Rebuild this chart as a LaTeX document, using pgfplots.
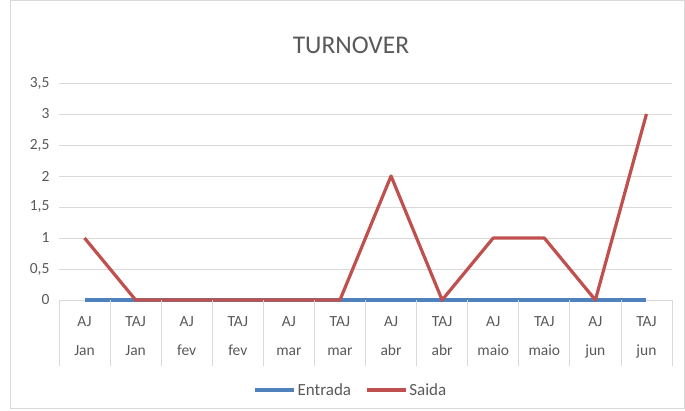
\documentclass[border=0pt]{standalone}
\usepackage{pgfplots}
\pgfplotsset{compat=1.18}
\usepackage{fontspec}
\setmainfont{Carlito}
\definecolor{txt}{HTML}{595959}
\definecolor{grd}{HTML}{D9D9D9}
\definecolor{blu}{HTML}{4F81BD}
\definecolor{rd}{HTML}{C0504D}
\begin{document}
\begin{tikzpicture}[x=1pt,y=1pt]
\path[use as bounding box] (-59,-110) rectangle (626,300);
\draw[grd] (-49,-108) rectangle (625,300);
\begin{axis}[
  at={(0,0)}, anchor=south west,
  scale only axis, width=613pt, height=217pt,
  xmin=-0.5, xmax=11.5, ymin=0, ymax=3.5,
  ytick={0,0.5,...,3.5},
  xtick={0,...,11},
  xticklabels={{AJ\\[11pt]Jan},{TAJ\\[11pt]Jan},{AJ\\[11pt]fev},{TAJ\\[11pt]fev},{AJ\\[11pt]mar},{TAJ\\[11pt]mar},{AJ\\[11pt]abr},{TAJ\\[11pt]abr},{AJ\\[11pt]maio},{TAJ\\[11pt]maio},{AJ\\[11pt]jun},{TAJ\\[11pt]jun}},
  xticklabel style={align=center, font=\fontsize{15.5}{18}\selectfont, text=txt, yshift=-13pt},
  yticklabel style={font=\fontsize{15.5}{18}\selectfont, text=txt, xshift=-6pt},
  /pgf/number format/assume math mode=true,
  /pgf/number format/use comma,
  ymajorgrids, grid style={grd, line width=0.8pt},
  major tick length=0pt,
  axis line style={draw=none},
  axis x line*=bottom,
  x axis line style={draw=grd, line width=0.8pt},
  axis y line*=left,
  y axis line style={draw=none},
  legend columns=2,
  legend style={draw=none, fill=none, at={(0.476,-0.415)}, anchor=center,
    font=\fontsize{17}{20}\selectfont, text=txt,
    /tikz/every even column/.append style={column sep=12pt}},
  legend image code/.code={\draw[#1] (0pt,0pt) -- (39pt,0pt);},
  clip=false,
]
\addplot[blu, line width=3.2pt, line join=round] coordinates {(0,0)(1,0)(2,0)(3,0)(4,0)(5,0)(6,0)(7,0)(8,0)(9,0)(10,0)(11,0)};
\addlegendentry{Entrada}
\addplot[rd, line width=3.2pt, line join=round] coordinates {(0,1)(1,0)(2,0)(3,0)(4,0)(5,0)(6,2)(7,0)(8,1)(9,1)(10,0)(11,3)};
\addlegendentry{Saida}
\end{axis}
\foreach \k in {0,...,12} \draw[grd, line width=0.8pt] (\k*51.0833,0) -- (\k*51.0833,-66);
\node[text=txt, font=\fontsize{25.5}{30}\selectfont] at (292,255) {TURNOVER};
\end{tikzpicture}
\end{document}
